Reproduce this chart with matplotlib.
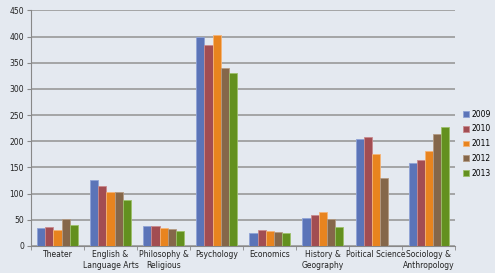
import numpy as np
import matplotlib
matplotlib.use("Agg")
import matplotlib.pyplot as plt

categories = ["Theater", "English &\nLanguage Arts", "Philosophy &\nReligious",
              "Psychology", "Economics", "History &\nGeography",
              "Poitical Science", "Sociology &\nAnthropology"]
years = ["2009", "2010", "2011", "2012", "2013"]

v2009 = [34, 126, 39, 400, 25, 54, 204, 158]
v2010 = [36, 115, 38, 383, 31, 59, 208, 165]
v2011 = [31, 103, 34, 403, 29, 64, 176, 182]
v2012 = [51, 104, 32, 339, 26, 51, 129, 213]
v2013 = [41, 87, 28, 330, 24, 37, 0, 227]
series = [v2009, v2010, v2011, v2012, v2013]

colors = ["#5b74b8", "#a24d52", "#e8841f", "#85674a", "#63901f"]
edges = ["#8fa3d6", "#c98a8d", "#f5b477", "#b39a82", "#9cc06a"]
bg = "#e4e9f0"

fig = plt.figure(figsize=(4.95, 2.73), dpi=100, facecolor=bg)
ax = fig.add_axes([0.0626, 0.099, 0.857, 0.863], facecolor=bg)

x = np.arange(len(categories))
w = 0.152
for i, vals in enumerate(series):
    ax.bar(x + (i - 2) * w, vals, w, color=colors[i], edgecolor=edges[i],
           linewidth=0.6, label=years[i], zorder=3)

ax.set_xlim(-0.5, len(categories) - 0.5)
ax.set_ylim(0, 450)
ax.set_yticks(range(0, 451, 50))
ax.yaxis.grid(True, color="#999999", linewidth=1.2, zorder=0)
ax.set_xticks(x)
ax.set_xticklabels(categories, fontsize=5.5, color="#222222", linespacing=1.25)
ax.set_xticks(np.arange(-0.5, len(categories), 1), minor=True)
ax.tick_params(axis="x", which="major", length=0, pad=3)
ax.tick_params(axis="x", which="minor", length=3, color="#888888")
ax.tick_params(axis="y", labelsize=5.5, length=3, color="#888888", labelcolor="#222222", pad=2)
for side in ["top", "right"]:
    ax.spines[side].set_visible(False)
ax.spines["left"].set_color("#888888")
ax.spines["bottom"].set_color("#888888")

leg = fig.legend(loc="upper left", bbox_to_anchor=(0.935, 0.598), fontsize=5.5,
                 frameon=False, handlelength=0.8, handleheight=0.8,
                 handletextpad=0.3, labelspacing=0.75, borderaxespad=0,
                 borderpad=0)

fig.savefig("out.png", dpi=100, facecolor=bg)
